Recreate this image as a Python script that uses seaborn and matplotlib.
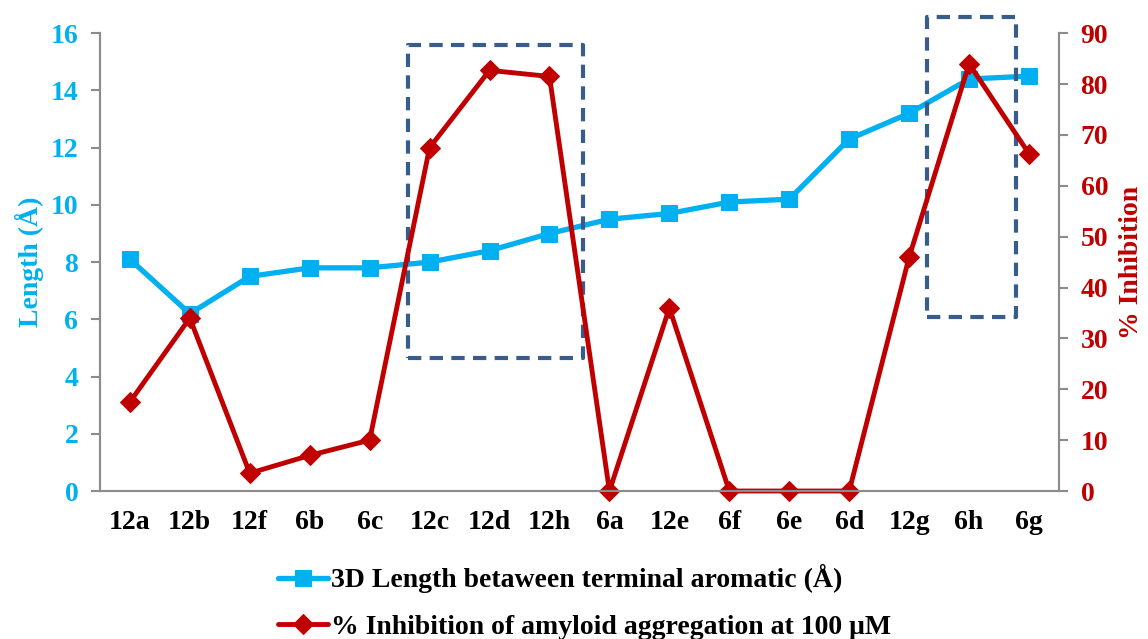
import numpy as np
import pandas as pd
import matplotlib
matplotlib.use("Agg")
import matplotlib.pyplot as plt
import seaborn as sns
from matplotlib.patches import Rectangle

sns.set_style("white")
plt.rcParams["font.family"] = ["Liberation Serif", "DejaVu Serif"]
plt.rcParams["font.weight"] = "bold"
plt.rcParams["text.color"] = "black"

compounds = ["12a", "12b", "12f", "6b", "6c", "12c", "12d", "12h",
             "6a", "12e", "6f", "6e", "6d", "12g", "6h", "6g"]
length = [8.1, 6.2, 7.5, 7.8, 7.8, 8.0, 8.4, 9.0,
          9.5, 9.7, 10.1, 10.2, 12.3, 13.2, 14.4, 14.5]
inhibition = [17.5, 34, 3.5, 7, 10, 67.5, 82.7, 81.5,
              0, 36, 0, 0, 0, 46, 84, 66.3]

blue = "#00B0F0"
red = "#C00000"
box_color = "#385D8A"
spine_grey = "#8C8C8C"
fs = 20

df = pd.DataFrame({"compound": compounds, "length": length, "inhibition": inhibition})

fig, ax1 = plt.subplots(figsize=(11.48, 6.39), dpi=100)
fig.subplots_adjust(left=0.087, right=0.9225, top=0.948, bottom=0.2316)
ax2 = ax1.twinx()

sns.lineplot(data=df, x="compound", y="length", ax=ax1, color=blue, lw=3.8,
             marker="s", markersize=12, markeredgecolor=blue, sort=False,
             label="3D Length betaween terminal aromatic (Å)", legend=False)
sns.lineplot(data=df, x="compound", y="inhibition", ax=ax2, color=red, lw=3.5,
             marker="D", markersize=10, markeredgecolor=red, sort=False,
             label="% Inhibition of amyloid aggregation at 100 μM", legend=False)
# markers sitting on 0 should not be cut by the axes edge
for line in ax1.lines + ax2.lines:
    line.set_clip_on(False)

n = len(compounds)
ax1.set_xlim(-0.5, n - 0.5)
ax1.set_ylim(0, 16)
ax2.set_ylim(0, 90)
ax1.set_yticks(np.arange(0, 17, 2))
ax2.set_yticks(np.arange(0, 91, 10))

ax1.set_xticks(range(n))
ax1.set_xticklabels(compounds, fontsize=fs, fontweight="bold", color="black")
ax1.set_xticks(np.arange(-0.5, n, 1), minor=True)
ax1.tick_params(axis="x", which="major", length=0, pad=14)
ax1.tick_params(axis="x", which="minor", length=6.5, color=spine_grey, width=1.5, direction="out")
ax1.tick_params(axis="y", length=6.5, color=spine_grey, width=1.5, labelsize=fs,
                labelcolor=blue, direction="out", pad=9)
ax2.tick_params(axis="y", length=6.5, color=spine_grey, width=1.5, labelsize=fs,
                labelcolor=red, direction="out", pad=9)
for lab in ax1.get_yticklabels() + ax2.get_yticklabels():
    lab.set_fontweight("bold")

ax1.set_xlabel("")
ax1.set_ylabel("Length (Å)", color=blue, fontsize=fs, fontweight="bold", labelpad=5)
ax2.set_ylabel("% Inhibition", color=red, fontsize=fs, fontweight="bold", labelpad=8)

for ax in (ax1, ax2):
    ax.spines["top"].set_visible(False)
    for s in ("left", "right", "bottom"):
        ax.spines[s].set_color(spine_grey)
        ax.spines[s].set_linewidth(1.5)
    ax.grid(False)

# highlighted regions
for x0, x1, y0, y1 in [(4.64, 7.56, 4.65, 15.58), (13.3, 14.78, 6.08, 16.56)]:
    ax1.add_patch(Rectangle((x0, y0), x1 - x0, y1 - y0, fill=False, ec=box_color,
                            lw=3, ls=(0, (3.2, 2)), joinstyle="round",
                            clip_on=False, zorder=5))

h1, l1 = ax1.get_legend_handles_labels()
h2, l2 = ax2.get_legend_handles_labels()
fig.legend(h1 + h2, l1 + l2, loc="lower center", bbox_to_anchor=(0.509, -0.04),
           ncol=1, frameon=False, handlelength=1.8, handletextpad=0.1,
           labelspacing=0.75, labelcolor="black", prop={"size": fs, "weight": "bold"})

fig.savefig("out.png", dpi=100)
